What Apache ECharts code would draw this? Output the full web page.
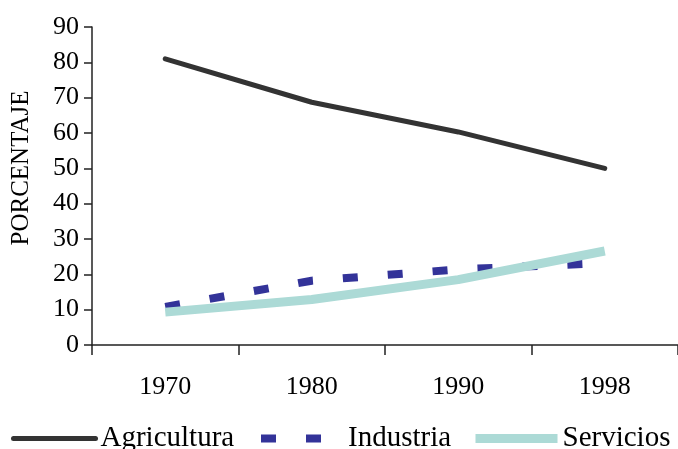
<!DOCTYPE html>
<html>
<head>
<meta charset="utf-8">
<script src="https://cdn.jsdelivr.net/npm/echarts@6/dist/echarts.min.js"></script>
<style>html,body{margin:0;padding:0;background:#fff}#c{width:678px;height:449px}</style>
</head>
<body>
<div id="c"></div>
<script>
var categories = ['1970', '1980', '1990', '1998'];
var agricultura = [81, 68.7, 60.3, 50];
var industria = [10.8, 18.2, 21.4, 23.2];
var servicios = [9.3, 12.9, 18.5, 26.6];
var yTicks = {min: 0, max: 90, interval: 10};
var seriesNames = ['Agricultura', 'Industria', 'Servicios'];

var FONT = 'Liberation Serif';
var chart = echarts.init(document.getElementById('c'), null, {renderer: 'canvas'});

function legendAt(name, left) {
  return {
    data: [name], left: left, top: 424, orient: 'horizontal', padding: 0,
    itemWidth: 82, itemHeight: 20, itemGap: 0,
    selectedMode: false,
    itemStyle: {color: 'transparent', borderWidth: 0, opacity: 0},
    lineStyle: {width: 'inherit'},
    textStyle: {fontFamily: FONT, fontSize: 29, color: '#000'}
  };
}

chart.setOption({
  animation: false,
  backgroundColor: '#fff',
  grid: {left: 92, top: 27, right: -4, bottom: 104, containLabel: false},
  legend: [legendAt(seriesNames[0], 11), legendAt(seriesNames[1], 257), legendAt(seriesNames[2], 471)],
  xAxis: {
    type: 'category', data: categories, boundaryGap: true,
    axisLine: {lineStyle: {color: '#222', width: 1.5}},
    axisTick: {show: true, length: 10, alignWithLabel: false, lineStyle: {color: '#222', width: 1.5}},
    axisLabel: {fontFamily: FONT, fontSize: 26, color: '#000', margin: 29},
    splitLine: {show: false}
  },
  yAxis: {
    type: 'value', min: yTicks.min, max: yTicks.max, interval: yTicks.interval,
    name: 'PORCENTAJE', nameLocation: 'middle', nameGap: 58, nameRotate: 90,
    nameTextStyle: {fontFamily: FONT, fontSize: 25, color: '#000', padding: [0, 0, 0, 36]},
    axisLine: {show: true, lineStyle: {color: '#222', width: 1.5}},
    axisTick: {show: true, length: 8, lineStyle: {color: '#222', width: 1.5}},
    axisLabel: {fontFamily: FONT, fontSize: 26, color: '#000', margin: 13},
    splitLine: {show: false}
  },
  series: [
    {name: seriesNames[0], type: 'line', data: agricultura, symbol: 'none', z: 3,
     lineStyle: {color: '#333333', width: 5, cap: 'round', join: 'round'}, itemStyle: {color: '#333333'}},
    {name: seriesNames[1], type: 'line', data: industria, symbol: 'none', z: 2,
     lineStyle: {color: '#333399', width: 8, type: [15, 30], cap: 'butt'}, itemStyle: {color: '#333399'}},
    {name: seriesNames[2], type: 'line', data: servicios, symbol: 'none', z: 4,
     lineStyle: {color: '#acdad6', width: 9, cap: 'butt'}, itemStyle: {color: '#acdad6'}}
  ]
});
</script>
</body>
</html>
